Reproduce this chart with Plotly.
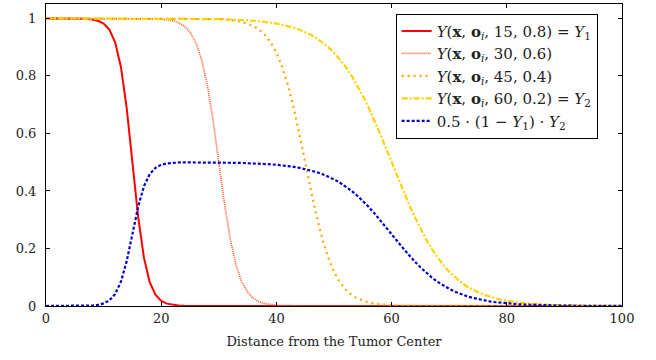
import plotly.graph_objects as go

x = list(range(0, 101))

# Y(x, o_i, 15, 0.8) = Y1
y_15 = [1.0, 1.0, 1.0, 0.9999, 0.9999, 0.9997, 0.9993, 0.9983, 0.9963, 0.9918,
        0.9820, 0.9608, 0.9168, 0.8320, 0.6900, 0.5000, 0.3100, 0.1680, 0.0832, 0.0392,
        0.0180, 0.0082, 0.0037, 0.0017, 0.0008, 0.0003, 0.0002, 0.0001] + [0.0] * 73

# Y(x, o_i, 30, 0.6)
y_30 = [1.0] * 15 + [0.9999, 0.9998, 0.9996, 0.9993, 0.9986,
        0.9975, 0.9955, 0.9918, 0.9852, 0.9734, 0.9526, 0.9168, 0.8581, 0.7685, 0.6457,
        0.5000, 0.3543, 0.2315, 0.1419, 0.0832, 0.0474, 0.0266, 0.0148, 0.0082, 0.0045,
        0.0025, 0.0014, 0.0007, 0.0004, 0.0002, 0.0001] + [0.0] * 55

# Y(x, o_i, 45, 0.4)
y_45 = [1.0] * 21 + [0.9999, 0.9999, 0.9998, 0.9998,
        0.9997, 0.9995, 0.9993, 0.9989, 0.9983, 0.9975, 0.9963, 0.9945, 0.9918, 0.9879,
        0.9820, 0.9734, 0.9608, 0.9427, 0.9168, 0.8808, 0.8320, 0.7685, 0.6900, 0.5987,
        0.5000, 0.4013, 0.3100, 0.2315, 0.1680, 0.1192, 0.0832, 0.0573, 0.0392, 0.0266,
        0.0180, 0.0121, 0.0082, 0.0055, 0.0037, 0.0025, 0.0017, 0.0011, 0.0007, 0.0005,
        0.0003, 0.0002, 0.00015, 0.0001, 0.0001] + [0.0] * 31

# Y(x, o_i, 60, 0.2) = Y2
y_60 = [1.0] * 14 + [0.9999, 0.9999, 0.9998, 0.9998, 0.9998, 0.9997,
        0.9997, 0.9996, 0.9995, 0.9994, 0.9993, 0.9991, 0.9989, 0.9986, 0.9983, 0.9980,
        0.9975, 0.9970, 0.9963, 0.9955, 0.9945, 0.9933, 0.9918, 0.9900, 0.9879, 0.9852,
        0.9820, 0.9781, 0.9734, 0.9677, 0.9608, 0.9526, 0.9427, 0.9309, 0.9168, 0.9002,
        0.8808, 0.8581, 0.8320, 0.8022, 0.7685, 0.7311, 0.6900, 0.6457, 0.5987, 0.5498,
        0.5000, 0.4502, 0.4013, 0.3543, 0.3100, 0.2689, 0.2315, 0.1978, 0.1680, 0.1419,
        0.1192, 0.0998, 0.0832, 0.0691, 0.0573, 0.0474, 0.0392, 0.0323, 0.0266, 0.0219,
        0.0180, 0.0148, 0.0121, 0.0100, 0.0082, 0.0067, 0.0055, 0.0045, 0.0037, 0.0030,
        0.0025, 0.0020, 0.0017, 0.0014, 0.0011, 0.0009, 0.0007, 0.0006, 0.0005, 0.0004,
        0.0003]

# 0.5 * (1 - Y1) * Y2
y_prod = [0.0, 0.0, 0.0, 0.0, 0.0001, 0.0002, 0.0004, 0.0008, 0.0018, 0.0041,
          0.0090, 0.0196, 0.0416, 0.0840, 0.1550, 0.2500, 0.3450, 0.4160, 0.4583, 0.4803,
          0.4909, 0.4957, 0.4979, 0.4989, 0.4993, 0.4994, 0.4994, 0.4993, 0.4992, 0.4990,
          0.4988, 0.4985, 0.4982, 0.4978, 0.4973, 0.4967, 0.4959, 0.4950, 0.4940, 0.4926,
          0.4910, 0.4891, 0.4867, 0.4839, 0.4804, 0.4763, 0.4714, 0.4655, 0.4584, 0.4501,
          0.4404, 0.4291, 0.4160, 0.4011, 0.3843, 0.3655, 0.3450, 0.3228, 0.2993, 0.2749,
          0.2500, 0.2251, 0.2007, 0.1772, 0.1550, 0.1345, 0.1157, 0.0989, 0.0840, 0.0710,
          0.0596, 0.0499, 0.0416, 0.0345, 0.0287, 0.0237, 0.0196, 0.0162, 0.0133, 0.0110,
          0.0090, 0.0074, 0.0061, 0.0050, 0.0041, 0.0034, 0.0028, 0.0023, 0.0018, 0.0015,
          0.0012, 0.0010, 0.0008, 0.0007, 0.0006, 0.0005, 0.0004, 0.0003, 0.0002, 0.0002,
          0.0002]

names = [
    "<i>Y</i>(<b>x</b>, <b>o</b><sub><i>i</i></sub>, 15, 0.8) = <i>Y</i><sub>1</sub>",
    "<i>Y</i>(<b>x</b>, <b>o</b><sub><i>i</i></sub>, 30, 0.6)",
    "<i>Y</i>(<b>x</b>, <b>o</b><sub><i>i</i></sub>, 45, 0.4)",
    "<i>Y</i>(<b>x</b>, <b>o</b><sub><i>i</i></sub>, 60, 0.2) = <i>Y</i><sub>2</sub>",
    "0.5 · (1 − <i>Y</i><sub>1</sub>) · <i>Y</i><sub>2</sub>",
]
series = [y_15, y_30, y_45, y_60, y_prod]
styles = [
    dict(color="#ff0000", width=2, dash="solid"),
    dict(color="#ff5a30", width=1.7, dash="1px,1px"),
    dict(color="#ffa500", width=2.2, dash="2px,4px"),
    dict(color="#ffd200", width=2.2, dash="6px,2px,2px,2px"),
    dict(color="#0000cc", width=2.2, dash="3px,2px"),
]

FONT = "DejaVu Serif"
TXT = "#222"

fig = go.Figure()
for ys, nm, st in zip(series, names, styles):
    fig.add_trace(go.Scatter(x=x, y=ys, mode="lines", name=nm, line=st))

axis_common = dict(
    showline=True, linecolor="black", linewidth=1, mirror="ticks",
    ticks="inside", ticklen=4, tickcolor="black", tickwidth=1,
    showgrid=False, zeroline=False,
    tickfont=dict(family=FONT, size=13, color=TXT),
)

fig.update_layout(
    width=656, height=360,
    margin=dict(l=46, r=34, t=4, b=54),
    paper_bgcolor="white", plot_bgcolor="white",
    font=dict(family=FONT, size=13, color=TXT),
    xaxis=dict(range=[0, 100], tickvals=[0, 20, 40, 60, 80, 100],
               title=dict(text="Distance from the Tumor Center",
                          font=dict(family=FONT, size=13, color=TXT), standoff=12),
               **axis_common),
    yaxis=dict(range=[0, 1.05], tickvals=[0, 0.2, 0.4, 0.6, 0.8, 1],
               ticktext=["0", "0.2", "0.4", "0.6", "0.8", "1"],
               ticklabelstandoff=6, **axis_common),
    legend=dict(x=0.607, y=0.968, xanchor="left", yanchor="top",
                bgcolor="white", bordercolor="black", borderwidth=1,
                font=dict(family=FONT, size=15, color=TXT),
                tracegroupgap=0),
    showlegend=True,
)

fig.write_html("out.html")
